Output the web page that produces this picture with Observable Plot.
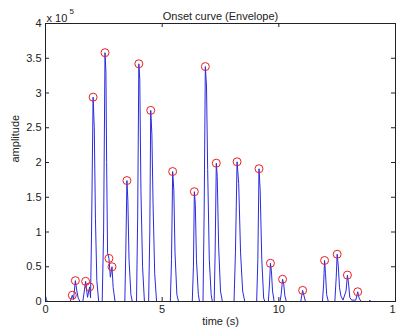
<!DOCTYPE html>
<html>
<head>
<meta charset="utf-8">
<script src="https://cdn.jsdelivr.net/npm/d3@7"></script>
<script src="https://cdn.jsdelivr.net/npm/@observablehq/plot@0.6"></script>
<style>
  html, body { margin: 0; padding: 0; background: #fff; }
  #chart svg { display: block; }
</style>
</head>
<body>
<div id="chart"></div>
<script>
// Envelope curve (time in s, amplitude in units of 1e5)
const envTime = [
  0, 0.04, 0.08,
  1.06, 1.15, 1.20, 1.28, 1.33, 1.40, 1.48,
  1.60, 1.72, 1.80, 1.89, 1.93,
  1.97, 2.04, 2.09, 2.14, 2.20, 2.28,
  2.43, 2.49, 2.55, 2.59, 2.62, 2.66, 2.72, 2.78, 2.85, 2.90, 2.98,
  3.40, 3.44, 3.49, 3.53, 3.58, 3.66, 3.72,
  3.90, 3.95, 4.00, 4.04, 4.09, 4.16, 4.24,
  4.42, 4.47, 4.51, 4.56, 4.61, 4.68, 4.76,
  5.35, 5.40, 5.45, 5.50, 5.55, 5.63, 5.70,
  6.29, 6.34, 6.38, 6.42, 6.47, 6.55, 6.60,
  6.75, 6.80, 6.85, 6.90, 6.95, 7.02, 7.10, 7.15,
  7.23, 7.27, 7.32, 7.36, 7.42, 7.50, 7.58,
  8.08, 8.14, 8.21, 8.28, 8.36, 8.45, 8.54,
  9.05, 9.10, 9.15, 9.20, 9.27, 9.35, 9.40,
  9.55, 9.60, 9.64, 9.68, 9.73, 9.80,
  10.05, 10.10, 10.16, 10.21, 10.26, 10.32,
  10.94, 11.02, 11.08, 11.14,
  11.87, 11.92, 11.96, 12.00, 12.05, 12.12,
  12.40, 12.46, 12.50, 12.55, 12.60, 12.66, 12.75,
  12.88, 12.94, 12.99, 13.04, 13.12,
  13.30, 13.38, 13.44, 13.52,
  13.85, 13.90, 13.95, 14.30
];
const envAmp = [
  0.08, 0.03, 0,
  0, 0.09, 0.03, 0.30, 0.18, 0.05, 0,
  0, 0.29, 0.06, 0.21, 0.05,
  0.9, 2.94, 2.5, 1.2, 0.3, 0,
  0, 1.0, 3.58, 3.3, 2.0, 0.7, 0.62, 0.35, 0.50, 0.2, 0,
  0, 0.7, 1.74, 1.45, 0.6, 0.1, 0,
  0, 1.2, 3.42, 3.2, 1.6, 0.5, 0,
  0, 1.0, 2.75, 2.4, 1.4, 0.4, 0,
  0, 0.6, 1.87, 1.6, 0.7, 0.1, 0,
  0, 0.5, 1.58, 1.4, 0.6, 0.1, 0,
  0, 1.3, 3.38, 3.1, 1.9, 0.6, 0.1, 0,
  0, 0.7, 1.99, 1.8, 0.8, 0.15, 0,
  0, 0.7, 2.01, 1.7, 0.7, 0.15, 0,
  0, 0.6, 1.91, 1.6, 0.6, 0.05, 0,
  0, 0.25, 0.55, 0.45, 0.15, 0,
  0, 0.1, 0.32, 0.25, 0.08, 0,
  0, 0.16, 0.08, 0,
  0, 0.25, 0.59, 0.4, 0.1, 0,
  0, 0.35, 0.68, 0.5, 0.2, 0.08, 0.02,
  0.15, 0.38, 0.25, 0.06, 0.02,
  0.02, 0.14, 0.05, 0,
  0, 0.02, 0, 0
];
// Detected onset peaks
const peakTime = [1.15, 1.28, 1.72, 1.89, 2.04, 2.55, 2.72, 2.85, 3.49, 4.00, 4.51, 5.45,
                  6.38, 6.85, 7.32, 8.21, 9.15, 9.64, 10.16, 11.02, 11.96, 12.50, 12.94, 13.38];
const peakAmp  = [0.09, 0.30, 0.29, 0.21, 2.94, 3.58, 0.62, 0.50, 1.74, 3.42, 2.75, 1.87,
                  1.58, 3.38, 1.99, 2.01, 1.91, 0.55, 0.32, 0.16, 0.59, 0.68, 0.38, 0.14];
const xTicks = [0, 5, 10, 15];
const yTicks = [0, 0.5, 1, 1.5, 2, 2.5, 3, 3.5, 4];

const env = envTime.map((t, i) => ({t, v: envAmp[i]}));
const peaks = peakTime.map((t, i) => ({t, v: peakAmp[i]}));

const W = 396, H = 333, mL = 45, mR = 1, mT = 23, mB = 32;
const fw = W - mL - mR, fh = H - mT - mB;
const fmt = d3.format("~g");

const chart = Plot.plot({
  width: W, height: H,
  marginLeft: mL, marginRight: mR, marginTop: mT, marginBottom: mB,
  style: {fontFamily: "Liberation Sans, Arial, sans-serif", fontSize: "11px", color: "#222", background: "#fff"},
  x: {domain: [0, 15]},
  y: {domain: [0, 4]},
  marks: [
    Plot.axisX({ticks: xTicks, tickSize: 0, tickPadding: 4, tickFormat: fmt, label: null, fontSize: 11}),
    Plot.axisY({ticks: yTicks, tickSize: 0, tickPadding: 4, tickFormat: fmt, label: null, fontSize: 11}),
    Plot.tickX(xTicks, {x: d => d, insetTop: fh - 4, stroke: "#222"}),
    Plot.tickX(xTicks, {x: d => d, insetBottom: fh - 4, stroke: "#222"}),
    Plot.tickY(yTicks, {y: d => d, insetRight: fw - 4, stroke: "#222"}),
    Plot.tickY(yTicks, {y: d => d, insetLeft: fw - 4, stroke: "#222"}),
    Plot.line(env, {x: "t", y: "v", stroke: "#2a2ae0", strokeWidth: 1}),
    Plot.dot(peaks, {x: "t", y: "v", r: 4, stroke: "#e82020", fill: "none", strokeWidth: 1}),
    Plot.frame({stroke: "#222"}),
    Plot.text(["Onset curve (Envelope)"], {text: d => d, frameAnchor: "top", dy: -11, fontSize: 11, fill: "#222"}),
    Plot.text(["x 10"], {text: d => d, frameAnchor: "top-left", textAnchor: "start", dy: -9, dx: 1, fontSize: 11, fill: "#222"}),
    Plot.text(["5"], {text: d => d, frameAnchor: "top-left", textAnchor: "start", dy: -15, dx: 24, fontSize: 8, fill: "#222"}),
    Plot.text(["amplitude"], {text: d => d, frameAnchor: "left", rotate: -90, dx: -30, fontSize: 11, fill: "#222"}),
    Plot.text(["time (s)"], {text: d => d, frameAnchor: "bottom", dy: 23, fontSize: 11, fill: "#222"})
  ]
});
document.getElementById("chart").appendChild(chart);
</script>
</body>
</html>
